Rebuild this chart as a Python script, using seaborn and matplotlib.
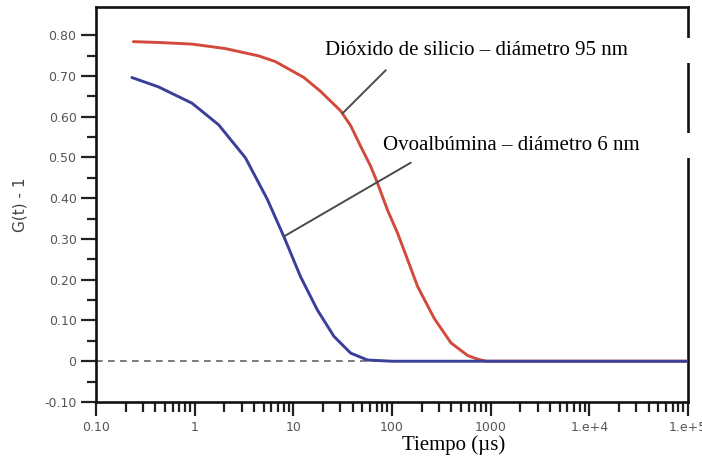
import numpy as np
import pandas as pd
import matplotlib
matplotlib.use("Agg")
import matplotlib.pyplot as plt
from matplotlib.patches import Rectangle
import matplotlib.ticker as mticker
import seaborn as sns

# ---- data ----
t_silica = [0.239, 0.430, 0.940, 2.05, 4.46, 6.59, 12.8, 18.9, 30.2, 38.1, 48.2, 60.9,
            71.3, 90.0, 114, 144, 182, 268, 396, 585, 738, 900, 1e4, 1e5]
g_silica = [0.784, 0.782, 0.778, 0.767, 0.749, 0.735, 0.696, 0.662, 0.614, 0.578, 0.527, 0.478,
            0.437, 0.371, 0.314, 0.249, 0.183, 0.105, 0.045, 0.014, 0.005, 0.0, 0.0, 0.0]

t_ova = [0.231, 0.430, 0.940, 1.75, 3.27, 5.43, 8.01, 11.8, 17.5, 25.8, 38.1, 56.4,
         100, 1000, 1e4, 1e5]
g_ova = [0.696, 0.673, 0.633, 0.580, 0.499, 0.398, 0.306, 0.208, 0.126, 0.061, 0.020, 0.003,
         0.0, 0.0, 0.0, 0.0]

series_names = ["Dióxido de silicio – diámetro 95 nm", "Ovoalbúmina – diámetro 6 nm"]
x_ticks = [0.1, 1, 10, 100, 1000, 1e4, 1e5]
x_tick_labels = ["0.10", "1", "10", "100", "1000", "1.e+4", "1.e+5"]
y_ticks = [-0.10, 0, 0.10, 0.20, 0.30, 0.40, 0.50, 0.60, 0.70, 0.80]
y_tick_labels = ["-0.10", "0", "0.10", "0.20", "0.30", "0.40", "0.50", "0.60", "0.70", "0.80"]
x_label = "Tiempo (µs)"
y_label = "G(t) - 1"

# annotation leader lines (curve point, label point)
silica_pointer = [(31.5, 0.608), (86.5, 0.714)]
ova_pointer = [(8.01, 0.306), (155, 0.487)]

df = pd.concat([
    pd.DataFrame({"t": t_silica, "g": g_silica, "serie": series_names[0]}),
    pd.DataFrame({"t": t_ova, "g": g_ova, "serie": series_names[1]}),
])

sns.set_style("ticks")
plt.rcParams["font.family"] = ["DejaVu Sans"]

fig = plt.figure(figsize=(7.02, 4.61), dpi=100)
ax = fig.add_axes([96/702, 1-402/461, (688-96)/702, (402-7)/461])

ax.axhline(0, color="#666666", lw=1.2, ls=(0, (4, 3.2)), zorder=1)

sns.lineplot(data=df, x="t", y="g", hue="serie",
             palette={series_names[0]: "#d24a3c", series_names[1]: "#3b3f9a"},
             lw=2.1, legend=False, sort=False, ax=ax, zorder=3)

ax.set_xscale("log")
ax.set_xlim(0.1, 1e5)
ax.set_ylim(-0.10, 0.869)

ax.set_xticks(x_ticks)
ax.set_xticklabels(x_tick_labels)
ax.xaxis.set_minor_locator(mticker.LogLocator(base=10, subs=np.arange(2, 10)))
ax.xaxis.set_minor_formatter(mticker.NullFormatter())
ax.set_yticks(y_ticks)
ax.set_yticklabels(y_tick_labels)
ax.yaxis.set_minor_locator(mticker.FixedLocator(np.arange(-0.05, 0.8, 0.1)))

ax.tick_params(axis="x", which="major", direction="out", length=10, width=1.6,
               color="#222222", labelsize=9, labelcolor="#555555", pad=4)
ax.tick_params(axis="x", which="minor", direction="out", length=7.5, width=1.6, color="#222222")
ax.tick_params(axis="y", which="major", direction="out", length=11, width=1.6,
               color="#222222", labelsize=9, labelcolor="#555555", pad=3)
ax.tick_params(axis="y", which="minor", direction="out", length=6.5, width=1.6, color="#222222")

for s in ax.spines.values():
    s.set_visible(True)
    s.set_color("#111111")
    s.set_linewidth(1.9)

ax.set_xlabel("")
ax.set_ylabel(y_label, fontsize=11, color="#444444")
ax.yaxis.set_label_coords(-0.115, 0.5)

for (p0, p1) in (silica_pointer, ova_pointer):
    ax.annotate("", xy=p0, xytext=p1,
                arrowprops=dict(arrowstyle="-", color="#4a4a4a", lw=1.4,
                                shrinkA=0, shrinkB=0))

# white label boxes with translated text
serif = ["Liberation Serif", "DejaVu Serif"]
boxes = [
    (320, 38, 692, 63, 325, series_names[0]),
    (370, 133, 692, 158, 383, series_names[1]),
]
for x0, y0, x1, y1, tx, txt in boxes:
    fig.patches.append(Rectangle((x0/702, 1-y1/461), (x1-x0)/702, (y1-y0)/461,
                                 transform=fig.transFigure, facecolor="white",
                                 edgecolor="none", zorder=10))
    fig.text(tx/702, 1-((y0+y1)/2)/461, txt, family=serif, fontsize=15,
             color="black", va="center", ha="left", zorder=11)

fig.patches.append(Rectangle((337/702, 1-457/461), (560-337)/702, 25/461,
                             transform=fig.transFigure, facecolor="white",
                             edgecolor="none", zorder=10))
fig.text(454/702, 1-445/461, x_label, family=serif, fontsize=15,
         color="black", va="center", ha="center", zorder=11)

fig.savefig("out.png", dpi=100)
